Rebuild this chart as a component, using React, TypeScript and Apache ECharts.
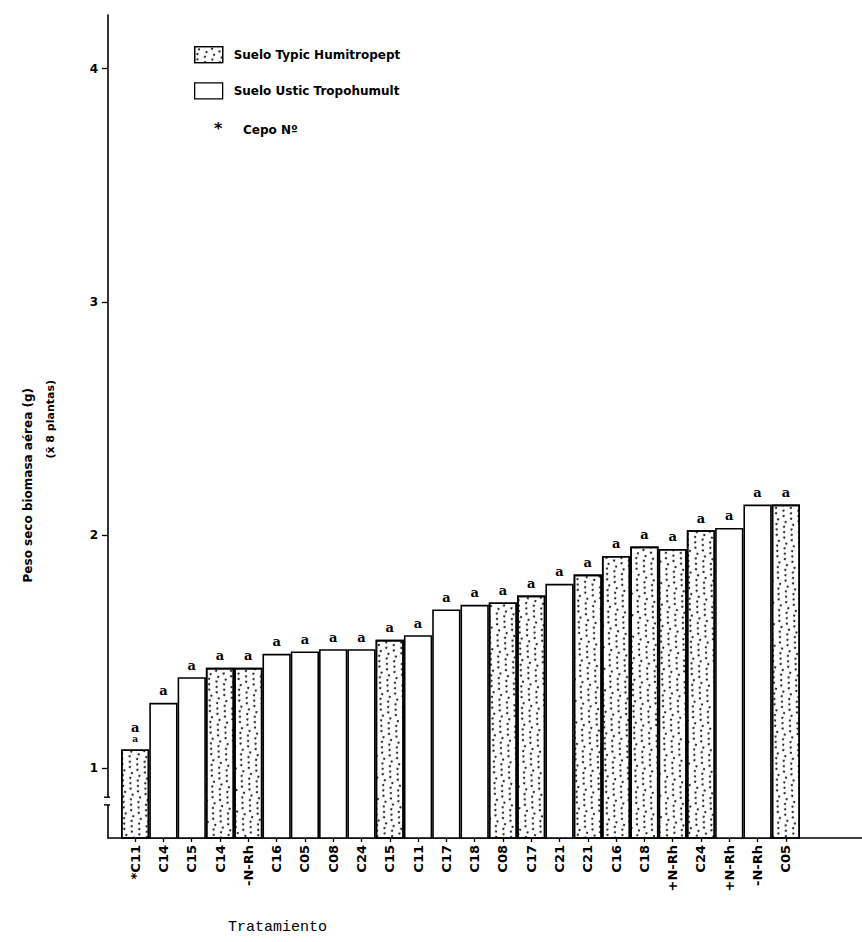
import React, { useEffect, useRef } from "react";
import * as echarts from "echarts";

const categories = ["*C11", "C14", "C15", "C14", "-N-Rh", "C16", "C05", "C08", "C24", "C15", "C11", "C17", "C18", "C08", "C17", "C21", "C21", "C16", "C18", "+N-Rh", "C24", "+N-Rh", "-N-Rh", "C05"];
const values = [1.08, 1.28, 1.39, 1.43, 1.43, 1.49, 1.50, 1.51, 1.51, 1.55, 1.57, 1.68, 1.70, 1.71, 1.74, 1.79, 1.83, 1.91, 1.95, 1.94, 2.02, 2.03, 2.13, 2.13];
// T = Suelo Typic Humitropept (dotted), U = Suelo Ustic Tropohumult (plain)
const soil = ["T", "U", "U", "T", "T", "U", "U", "U", "U", "T", "U", "U", "U", "T", "T", "U", "T", "T", "T", "T", "T", "U", "U", "T"];
const letters = ["a", "a", "a", "a", "a", "a", "a", "a", "a", "a", "a", "a", "a", "a", "a", "a", "a", "a", "a", "a", "a", "a", "a", "a"];
const subLetters = ["a", "", "", "", "", "", "", "", "", "", "", "", "", "", "", "", "", "", "", "", "", "", "", ""];
const soilKeys = ["T", "U"];
const soilNames = ["Suelo Typic Humitropept", "Suelo Ustic Tropohumult"];
const yTickValues = [1, 2, 3, 4];
const yMin = 0.7;
const yMax = 4.23;
const noteText = "Cepo N\u00BA";
const yTitle1 = "Peso seco biomasa a\u00E9rea (g)";
const yTitle2 = "(x\u0304 8 plantas)";
const xTitle = "Tratamiento";

const dotDecal = {
  symbol: "circle",
  symbolSize: 1,
  color: "#000",
  dashArrayX: [[2, 6], [0, 4, 2, 2], [1, 3, 2, 2], [0, 6, 2, 0]],
  dashArrayY: [2, 3],
  rotation: 0.35,
};

export default function App() {
  const ref = useRef<HTMLDivElement>(null);
  useEffect(() => {
    if (!ref.current) return;
    const chart = echarts.init(ref.current, null, { renderer: "svg" });
    const labelFormatter = (p: any) => {
      const i = p.dataIndex;
      return subLetters[i] ? `{m|${letters[i]}}\n{s|${subLetters[i]}}` : `{m|${letters[i]}}`;
    };
    const series = soilKeys.map((key, k) => ({
      type: "bar",
      name: soilNames[k],
      xAxisIndex: 0,
      yAxisIndex: 0,
      data: values.map((v, i) => (soil[i] === key ? v : null)),
      barGap: "-100%",
      barCategoryGap: "0%",
      itemStyle: {
        color: "#fff",
        borderColor: "#000",
        borderWidth: 1.6,
        decal: key === "T" ? dotDecal : undefined,
      },
      label: {
        show: true,
        position: "top",
        distance: 5,
        color: "#000",
        textBorderWidth: 0,
        formatter: labelFormatter,
        rich: {
          m: { fontFamily: "DejaVu Serif", fontWeight: "bold", fontSize: 13, color: "#000", lineHeight: 14 },
          s: { fontFamily: "DejaVu Serif", fontWeight: "bold", fontSize: 9, color: "#000", lineHeight: 10 },
        },
      },
    }));

    chart.setOption({
      animation: false,
      backgroundColor: "#fff",
      grid: [
        { left: 121, right: 62, top: 15, height: 823 },
        { left: 108, right: 0, top: 15, height: 823 },
      ],
      legend: {
        orient: "vertical",
        left: 194,
        top: 46,
        padding: 0,
        itemWidth: 28,
        itemHeight: 16,
        itemGap: 19,
        icon: "rect",
        data: soilNames,
        textStyle: { fontFamily: "DejaVu Sans", fontWeight: "bold", fontSize: 12, color: "#000", padding: [0, 0, 0, 6] },
        itemStyle: { borderColor: "#000", borderWidth: 1.3 },
      },
      xAxis: [
        {
          type: "category",
          gridIndex: 0,
          data: categories,
          boundaryGap: true,
          axisLine: { show: false },
          axisTick: { show: true, alignWithLabel: true, length: 4, lineStyle: { color: "#000", width: 1.3 } },
          axisLabel: {
            rotate: 90,
            interval: 0,
            margin: 7,
            color: "#000",
            fontFamily: "DejaVu Sans",
            fontWeight: "bold",
            fontSize: 13,
          },
        },
        {
          type: "value",
          gridIndex: 1,
          min: 0,
          max: 1,
          axisLine: { show: true, lineStyle: { color: "#000", width: 1.6 } },
          axisTick: { show: false },
          axisLabel: { show: false },
          splitLine: { show: false },
        },
      ],
      yAxis: [
        {
          type: "value",
          gridIndex: 0,
          min: yMin,
          max: yMax,
          offset: 13,
          axisLine: { show: true, lineStyle: { color: "#000", width: 1.6 } },
          axisTick: { show: true, length: 6, customValues: yTickValues, lineStyle: { color: "#000", width: 1.3 } },
          axisLabel: {
            show: true,
            customValues: yTickValues,
            margin: 10,
            color: "#000",
            fontFamily: "DejaVu Sans",
            fontWeight: "bold",
            fontSize: 12,
          },
          splitLine: { show: false },
        },
        { type: "value", gridIndex: 1, show: false, min: 0, max: 1 },
      ],
      series,
    });

    const top = chart.convertToPixel({ yAxisIndex: 0 }, 0.875) as number;
    const bot = chart.convertToPixel({ yAxisIndex: 0 }, 0.842) as number;
    const ax = 108;

    chart.setOption({
      graphic: [
        { type: "rect", shape: { x: ax - 4, y: top, width: 8, height: bot - top }, style: { fill: "#fff" }, z: 100 },
        { type: "line", shape: { x1: ax - 4, y1: top, x2: ax + 2, y2: top }, style: { stroke: "#000", lineWidth: 1.4 }, z: 101 },
        { type: "line", shape: { x1: ax - 4, y1: bot, x2: ax + 2, y2: bot }, style: { stroke: "#000", lineWidth: 1.4 }, z: 101 },
        { type: "text", x: 214, y: 120, style: { text: "*", font: "bold 16px DejaVu Sans", fill: "#000" } },
        { type: "text", x: 243, y: 124, style: { text: noteText, font: "bold 12px DejaVu Sans", fill: "#000" } },
        { type: "text", x: 228, y: 920, style: { text: xTitle, font: "15px Liberation Mono", fill: "#000" } },
        {
          type: "text", x: 28, y: 388, rotation: Math.PI / 2,
          style: { text: yTitle1, font: "bold 12px DejaVu Sans", fill: "#000", textAlign: "right", textVerticalAlign: "middle" },
        },
        {
          type: "text", x: 50, y: 380, rotation: Math.PI / 2,
          style: { text: yTitle2, font: "bold 11px DejaVu Sans", fill: "#000", textAlign: "right", textVerticalAlign: "middle" },
        },
      ],
    });

    return () => chart.dispose();
  }, []);
  return (
    <div
      ref={ref}
      style={{ position: "fixed", left: 0, top: 0, width: 862, height: 942, background: "#fff" }}
    />
  );
}
